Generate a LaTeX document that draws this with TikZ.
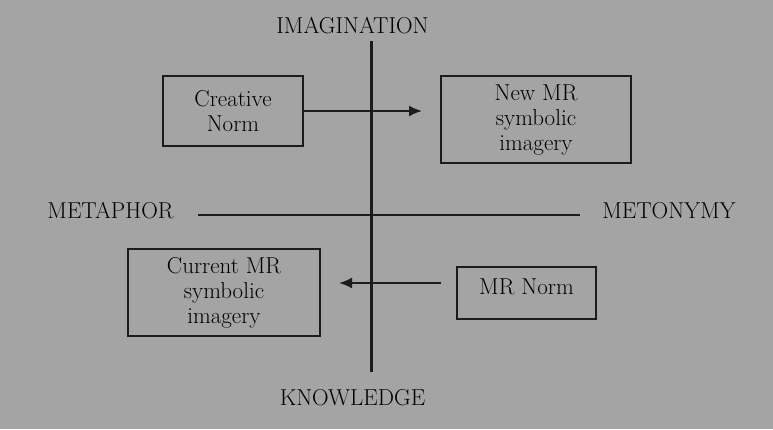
\documentclass[tikz,border=0pt]{standalone}
\usepackage{tikz}
\usetikzlibrary{arrows.meta}
\definecolor{paper}{HTML}{A4A4A4}
\definecolor{ink}{HTML}{1C1C1C}
\tikzset{
    > = {Latex[length=13pt,width=11pt]},
    every node/.append style = {
        font = \fontsize{23}{25}\selectfont,
        text = black
    },
    normbox/.style = {
        draw = ink,
        line width = 2pt,
        rectangle,
        align = center,
        inner sep = 0pt
    },
    axislabel/.style = {
        anchor = base,
        inner sep = 0pt
    },
    flow/.style = {
        ->,
        draw = ink,
        line width = 2pt
    }
}

\begin{document}
\begin{tikzpicture}[x=1pt, y=-1pt]
    \fill[paper] (0,0) rectangle (773,429);
    \useasboundingbox (0,0) rectangle (773,429);
%axes
    \coordinate (top) at (371.5,41);
    \coordinate (bottom) at (371.5,372);
    \coordinate (left) at (198,215);
    \coordinate (right) at (580,215);
    \draw[ink, line width = 3.5pt] (top) -- (bottom);
    \draw[ink, line width = 2pt] (left) -- (right);
%axis names
    \node (imagination) [axislabel] at (352.5,33) {IMAGINATION};
    \node (knowledge) [axislabel] at (352.5,405) {KNOWLEDGE};
    \node (metaphor) [axislabel] at (110.5,218) {METAPHOR};
    \node (metonymy) [axislabel] at (669,218) {METONYMY};
%boxes
    \node (creative) [normbox, minimum width = 140pt, minimum height = 70pt] at (233,111) {Creative\\Norm};
    \node (newmr) [normbox, minimum width = 190pt, minimum height = 87pt] at (536,119.5) {New MR\\symbolic\\imagery};
    \node (current) [normbox, minimum width = 192pt, minimum height = 87pt] at (224,292.5) {Current MR\\symbolic\\imagery};
    \node (mrnorm) [normbox, minimum width = 139pt, minimum height = 52pt, text depth = 13.5pt] at (526.5,293) {MR Norm};
%arrows
    \coordinate (mrout) at ([yshift=10pt]mrnorm.west);
    \draw[flow, shorten >= 18pt] (creative.east) -- (newmr.west |- creative.east);
    \draw[flow, shorten <= 15pt, shorten >= 18pt] (mrout) -- (current.east |- mrout);
\end{tikzpicture}
\end{document}
